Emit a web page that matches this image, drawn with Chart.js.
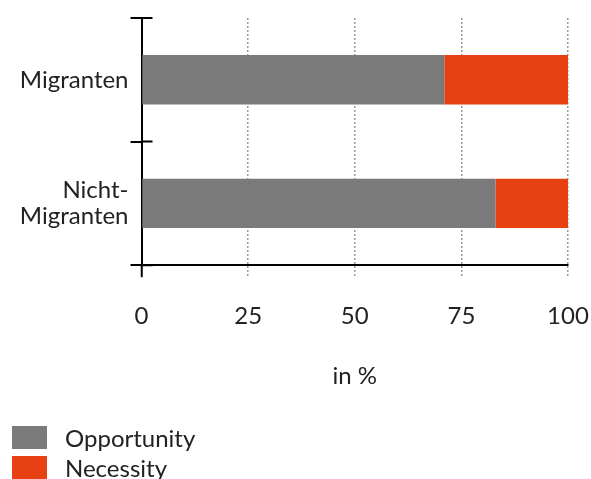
<!DOCTYPE html>
<html>
<head>
<meta charset="utf-8">
<script src="https://cdn.jsdelivr.net/npm/chart.js@4"></script>
<style>
  html, body { margin: 0; padding: 0; background: #fff; }
  #wrap { position: relative; width: 591px; height: 479px; }
  #legend { position: absolute; left: 12px; top: 422px; font-family: Lato, sans-serif; font-size: 24px; color: #222; }
  .item { display: flex; align-items: center; height: 30px; }
  .box { width: 35px; height: 23px; margin-right: 18px; }
</style>
</head>
<body>
<div id="wrap">
  <canvas id="chart" width="591" height="479"></canvas>
  <div id="legend"></div>
</div>
<script>
const categories = [['Migranten'], ['Nicht-', 'Migranten']];
const opportunity = [71, 83];
const necessity = [29, 17];
const xTicks = [0, 25, 50, 75, 100];
const seriesNames = ['Opportunity', 'Necessity'];
const colors = ['#7a7a7a', '#e64013'];

// short ticks on the inner side of the y axis, at category boundaries
const innerTicks = {
  id: 'innerTicks',
  afterDraw(chart) {
    const y = chart.scales.y;
    const n = y.ticks.length;
    const ctx = chart.ctx;
    ctx.save();
    ctx.strokeStyle = '#000';
    ctx.lineWidth = 2;
    ctx.beginPath();
    for (let i = 0; i <= n; i++) {
      const py = y.top + i * (y.height / n);
      ctx.moveTo(y.right, py);
      ctx.lineTo(y.right + 11, py);
    }
    ctx.stroke();
    ctx.restore();
  }
};

const font = { family: 'Lato, sans-serif', size: 24, lineHeight: 1.08 };

new Chart(document.getElementById('chart').getContext('2d'), {
  type: 'bar',
  data: {
    labels: categories,
    datasets: [
      { label: seriesNames[0], data: opportunity, backgroundColor: colors[0] },
      { label: seriesNames[1], data: necessity, backgroundColor: colors[1] }
    ]
  },
  options: {
    indexAxis: 'y',
    responsive: false,
    animation: false,
    layout: { padding: { top: 18, right: 23, bottom: 90, left: 0 } },
    datasets: { bar: { barPercentage: 0.4, categoryPercentage: 1 } },
    plugins: { legend: { display: false }, tooltip: { enabled: false } },
    scales: {
      x: {
        stacked: true,
        min: 0,
        max: 100,
        afterBuildTicks: s => { s.ticks = xTicks.map(v => ({ value: v })); },
        afterFit: s => { s.paddingLeft = 0; s.paddingRight = 0; },
        ticks: { color: '#222', font, padding: 26, maxRotation: 0 },
        grid: {
          color: c => c.index === 0 ? 'rgba(0,0,0,0)' : '#999',
          lineWidth: 1.5,
          tickLength: 12,
          tickColor: c => c.index === 0 ? '#000' : '#999',
          tickWidth: c => c.index === 0 ? 2 : 1.5,
          tickBorderDash: c => c.index === 0 ? [] : [2, 2]
        },
        border: { color: '#000', width: 2, dash: [2, 2] },
        title: { display: true, text: 'in %', color: '#222', font, padding: { top: 8, bottom: 0 } }
      },
      y: {
        stacked: true,
        afterFit: s => { s.width = 141.5; s.paddingTop = 0; s.paddingBottom = 0; },
        ticks: { color: '#222', font, padding: 2 },
        grid: { drawOnChartArea: false, color: '#000', lineWidth: 2, tickLength: 11, offset: true },
        border: { color: '#000', width: 2 }
      }
    }
  },
  plugins: [innerTicks]
});

const legend = document.getElementById('legend');
seriesNames.forEach((name, i) => {
  const item = document.createElement('div');
  item.className = 'item';
  item.innerHTML = '<span class="box" style="background:' + colors[i] + '"></span><span>' + name + '</span>';
  legend.appendChild(item);
});
</script>
</body>
</html>
